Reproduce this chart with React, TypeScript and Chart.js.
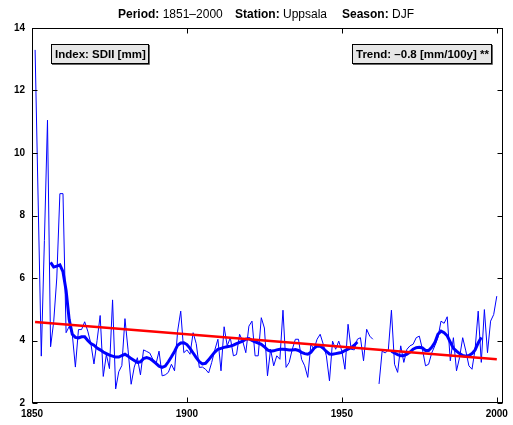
import React, { useEffect, useRef } from 'react';
import { Chart, registerables } from 'chart.js';

Chart.register(...registerables);

const FONT = '"Liberation Sans", Arial, Helvetica, sans-serif';

// ---- data ----
const YEARS: number[] = Array.from({ length: 150 }, (_, i) => 1851 + i);

// annual SDII (mm), 1851..2000
const SDII: (number | null)[] = [
  13.3, 8.4, 3.5, 7.2, 11.05, 3.8, 4.6, 6.0, 8.7, 8.7, // 1851-1860
  4.25, 4.45, 4.2, 3.15, 4.35, 4.35, 4.6, 4.3, 3.9, 3.25, // 1861-1870
  4.0, 4.8, 2.85, 3.55, 3.1, 5.3, 2.45, 3.0, 3.2, 4.7, // 1871-1880
  3.7, 2.6, 3.15, 3.45, 2.9, 3.7, 3.65, 3.6, 3.4, 3.24, // 1881-1890
  3.66, 2.87, 2.9, 2.98, 3.24, 3.03, 4.3, 4.94, 3.61, 3.7, // 1891-1900
  3.56, 4.25, 3.9, 3.14, 3.15, 3.08, 2.96, 3.3, 3.7, 4.04, // 1901-1910
  3.03, 4.44, 3.83, 4.09, 3.51, 3.55, 4.2, 3.98, 3.61, 4.46, // 1911-1920
  4.62, 3.51, 3.51, 4.73, 4.4, 2.87, 3.72, 3.19, 3.51, 3.4, // 1921-1930
  4.97, 3.14, 3.3, 3.72, 4.04, 4.04, 3.4, 3.19, 2.82, 3.88, // 1931-1940
  3.72, 4.04, 4.2, 3.88, 3.51, 2.71, 3.98, 3.72, 3.98, 3.66, // 1941-1950
  3.08, 4.52, 3.72, 3.7, 4.04, 4.09, 3.35, 4.36, 4.14, 4.04, // 1951-1960
  null, 2.61, 3.66, 3.6, 3.7, 4.97, 3.24, 2.98, 3.83, 3.3, // 1961-1970
  3.72, 3.83, 3.88, 4.09, 4.14, 3.72, 3.19, 3.24, 3.6, 3.83, // 1971-1980
  4.09, 4.62, 4.55, 4.76, 3.35, 4.09, 3.03, 3.46, 4.09, 3.67, // 1981-1990
  3.19, 3.08, 3.72, 4.94, 3.3, 4.99, 3.61, 4.62, 4.83, 5.42, // 1991-2000
];

// smoothed series, 1856..1995
const SMOOTH_YEARS: number[] = Array.from({ length: 140 }, (_, i) => 1856 + i);
const SMOOTH: (number | null)[] = [
  6.5, 6.35, 6.38, 6.42, 6.2, 5.6, 4.67, 4.2, 4.1, 4.08, // 1856-1865
  4.12, 4.12, 4.0, 3.9, 3.85, 3.76, 3.7, 3.63, 3.58, 3.53, // 1866-1875
  3.5, 3.47, 3.47, 3.52, 3.56, 3.5, 3.42, 3.36, 3.3, 3.32, // 1876-1885
  3.42, 3.45, 3.42, 3.35, 3.27, 3.18, 3.14, 3.18, 3.32, 3.48, // 1886-1895
  3.65, 3.85, 3.92, 3.93, 3.87, 3.75, 3.6, 3.45, 3.32, 3.25, // 1896-1905
  3.27, 3.38, 3.51, 3.63, 3.72, 3.75, 3.78, 3.8, 3.82, 3.85, // 1906-1915
  3.9, 3.94, 3.98, 4.04, 4.06, 4.0, 3.96, 3.92, 3.88, 3.8, // 1916-1925
  3.7, 3.66, 3.67, 3.7, 3.72, 3.72, 3.71, 3.7, 3.7, 3.71, // 1926-1935
  3.68, 3.62, 3.58, 3.56, 3.62, 3.75, 3.82, 3.82, 3.75, 3.65, // 1936-1945
  3.57, 3.56, 3.58, 3.6, 3.62, 3.68, 3.72, 3.77, 3.85, 3.95, // 1946-1955
  null, null, null, null, null, null, null, null, null, null, // 1956-1965
  3.66, 3.6, 3.55, 3.51, 3.52, 3.56, 3.63, 3.72, 3.77, 3.78, // 1966-1975
  3.76, 3.68, 3.68, 3.78, 3.93, 4.2, 4.3, 4.25, 4.15, 3.95, // 1976-1985
  3.75, 3.66, 3.58, 3.52, 3.5, 3.52, 3.58, 3.7, 3.92, 4.1, // 1986-1995
];

const TREND_YEARS: number[] = [1851, 2000];
const TREND: number[] = [4.59, 3.4];

const X_TICKS: number[] = [1850, 1900, 1950, 2000];
const Y_TICKS: number[] = [2, 4, 6, 8, 10, 12, 14];

// [label, value, x-start of the group]
const TITLE_GROUPS: [string, string, number][] = [
  ['Period:', '1851\u20132000', 118],
  ['Station:', 'Uppsala', 235],
  ['Season:', 'DJF', 342],
];
const INDEX_LABEL = 'Index: SDII [mm]';
const TREND_LABEL = 'Trend: \u20130.8 [mm/100y] **';

const toPoints = (xs: number[], ys: (number | null)[]) =>
  xs.map((x, i) => ({ x, y: ys[i] }));

const framePlugin = {
  id: 'matlabFrame',
  afterDraw(chart: any) {
    const { ctx, chartArea: a, scales } = chart;
    const xs = scales.x;
    const ys = scales.y;
    ctx.save();
    ctx.strokeStyle = '#000';
    ctx.lineWidth = 1;
    const L = Math.round(a.left) + 0.5;
    const R = Math.round(a.right) - 0.5;
    const T = Math.round(a.top) + 0.5;
    const B = Math.round(a.bottom) - 0.5;
    ctx.strokeRect(L, T, R - L, B - T);
    const tl = 5;
    ctx.beginPath();
    for (const v of X_TICKS) {
      const px = Math.round(xs.getPixelForValue(v)) + 0.5;
      ctx.moveTo(px, B);
      ctx.lineTo(px, B - tl);
      ctx.moveTo(px, T);
      ctx.lineTo(px, T + tl);
    }
    for (const v of Y_TICKS) {
      const py = Math.round(ys.getPixelForValue(v)) + 0.5;
      ctx.moveTo(L, py);
      ctx.lineTo(L + tl, py);
      ctx.moveTo(R, py);
      ctx.lineTo(R - tl, py);
    }
    ctx.stroke();

    // title
    ctx.fillStyle = '#000';
    ctx.textBaseline = 'alphabetic';
    ctx.textAlign = 'left';
    const fs = 12;
    for (const [lab, val, gx] of TITLE_GROUPS) {
      ctx.font = `bold ${fs}px ${FONT}`;
      ctx.fillText(lab, gx, 18);
      const w = ctx.measureText(lab + ' ').width;
      ctx.font = `${fs}px ${FONT}`;
      ctx.fillText(val, gx + w, 18);
    }

    // boxes
    const drawBox = (text: string, bx: number, by: number, bw: number, bh: number) => {
      ctx.fillStyle = '#e6e6e6';
      ctx.fillRect(bx, by, bw, bh);
      ctx.strokeStyle = '#000';
      ctx.lineWidth = 1;
      ctx.strokeRect(bx + 0.5, by + 0.5, bw - 1, bh - 1);
      ctx.strokeStyle = '#666';
      ctx.beginPath();
      ctx.moveTo(bx + bw + 0.5, by + 1);
      ctx.lineTo(bx + bw + 0.5, by + bh + 0.5);
      ctx.lineTo(bx + 1, by + bh + 0.5);
      ctx.stroke();
      ctx.fillStyle = '#000';
      ctx.font = `bold 11.5px ${FONT}`;
      ctx.textAlign = 'left';
      ctx.textBaseline = 'middle';
      ctx.fillText(text, bx + 4, by + bh / 2 + 0.5);
    };
    drawBox(INDEX_LABEL, 51, 44, 98, 20);
    drawBox(TREND_LABEL, 352, 44, 140, 20);
    ctx.restore();
  },
};

export default function App() {
  const ref = useRef<HTMLCanvasElement | null>(null);
  useEffect(() => {
    if (!ref.current) return;
    const chart = new Chart(ref.current, {
      type: 'line',
      data: {
        datasets: [
          {
            label: 'trend',
            data: toPoints(TREND_YEARS, TREND),
            borderColor: '#ff0000',
            borderWidth: 2.5,
            pointRadius: 0,
            order: 0,
          },
          {
            label: 'smooth',
            data: toPoints(SMOOTH_YEARS, SMOOTH),
            borderColor: '#0000ff',
            borderWidth: 3,
            pointRadius: 0,
            tension: 0,
            spanGaps: false,
            order: 1,
          },
          {
            label: 'SDII',
            data: toPoints(YEARS, SDII),
            borderColor: '#0000ff',
            borderWidth: 1,
            pointRadius: 0,
            tension: 0,
            spanGaps: false,
            order: 2,
          },
        ],
      },
      options: {
        animation: false,
        responsive: false,
        devicePixelRatio: 1,
        layout: { padding: { left: 0, right: 7, top: 28, bottom: 0 } },
        plugins: {
          legend: { display: false },
          title: { display: false },
          tooltip: { enabled: false },
        },
        scales: {
          x: {
            type: 'linear',
            min: 1850,
            max: 2002,
            grid: { display: false, drawTicks: false },
            border: { display: false },
            afterBuildTicks: (s: any) => {
              s.ticks = X_TICKS.map((v) => ({ value: v }));
            },
            afterFit: (s: any) => {
              s.height = 22;
            },
            ticks: {
              autoSkip: false,
              maxRotation: 0,
              padding: 5,
              color: '#000',
              font: { family: FONT, size: 10, weight: 'bold' },
              callback: (v: any) => String(v),
            },
          },
          y: {
            type: 'linear',
            min: 2,
            max: 14,
            grid: { display: false, drawTicks: false },
            border: { display: false },
            afterBuildTicks: (s: any) => {
              s.ticks = Y_TICKS.map((v) => ({ value: v }));
            },
            afterFit: (s: any) => {
              s.width = 32;
            },
            ticks: {
              padding: 7,
              color: '#000',
              font: { family: FONT, size: 10, weight: 'bold' },
              callback: (v: any) => String(v),
            },
          },
        },
      },
      plugins: [framePlugin],
    });
    return () => chart.destroy();
  }, []);

  return (
    <div style={{ position: 'fixed', left: 0, top: 0, width: 513, height: 425, background: '#fff' }}>
      <canvas ref={ref} width={513} height={425} style={{ display: 'block' }} />
    </div>
  );
}
